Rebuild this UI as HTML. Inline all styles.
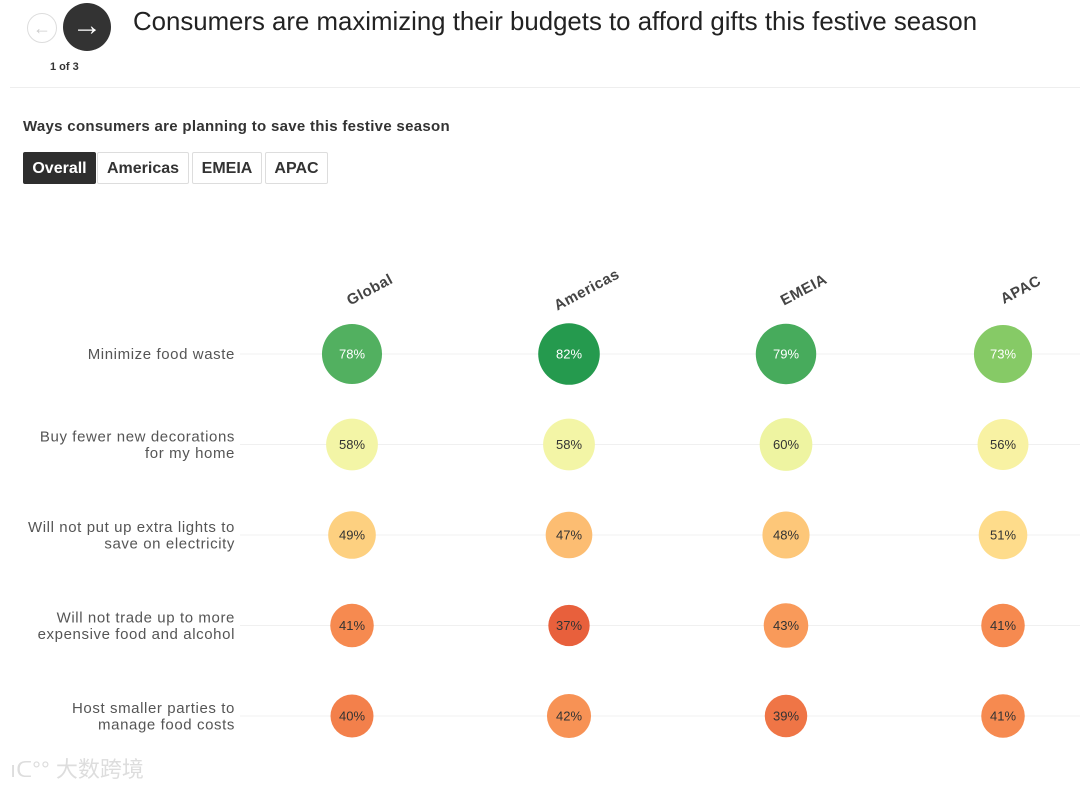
<!DOCTYPE html>
<html><head><meta charset="utf-8"><style>
body{margin:0;width:1080px;height:787px;background:#fff;font-family:"Liberation Sans",sans-serif;overflow:hidden;position:relative}
.nav{position:absolute;border-radius:50%}
.tab{position:absolute;top:152px;height:32px;border:1px solid #ddd;border-radius:2px;font-weight:bold;font-size:16px;line-height:31px;text-align:center;color:#333;box-sizing:border-box}
</style></head><body>
<div class="nav" style="left:27px;top:13px;width:28px;height:28px;border:1px solid #ddd;color:#ccc;text-align:center;line-height:28px;font-size:18px;font-weight:bold">←</div>
<div class="nav" style="left:63px;top:3px;width:48px;height:48px;background:#333;color:#fff;text-align:center;line-height:46px;font-size:30px;font-weight:bold">→</div>
<div style="position:absolute;left:50px;top:61px;font-size:11px;font-weight:bold;color:#333">1 of 3</div>
<div style="position:absolute;left:133px;top:8px;font-size:25.8px;color:#222">Consumers are maximizing their budgets to afford gifts this festive season</div>
<div style="position:absolute;left:10px;top:87px;width:1070px;height:1px;background:#eee"></div>
<div style="position:absolute;left:23px;top:118px;font-size:15px;font-weight:bold;color:#333;letter-spacing:0.3px">Ways consumers are planning to save this festive season</div>
<div class="tab" style="left:23px;width:73px;background:#2e2e2e;color:#fff;border-color:#2e2e2e">Overall</div>
<div class="tab" style="left:97px;width:92px">Americas</div>
<div class="tab" style="left:192px;width:70px">EMEIA</div>
<div class="tab" style="left:265px;width:63px">APAC</div>
<svg id="chart" width="1080" height="787" style="position:absolute;left:0;top:0"></svg>
<div style="position:absolute;left:10px;top:752px;font-size:22px;color:#ddd;font-family:'Liberation Sans','Noto Sans CJK SC',sans-serif">ıᑕ°° 大数跨境</div>
<script>
const regions=["Global","Americas","EMEIA","APAC"];
const items=[["Minimize food waste"],["Buy fewer new decorations","for my home"],["Will not put up extra lights to","save on electricity"],["Will not trade up to more","expensive food and alcohol"],["Host smaller parties to","manage food costs"]];
const globalVals=[78,58,49,41,40];
const americasVals=[82,58,47,37,42];
const emeiaVals=[79,60,48,43,39];
const apacVals=[73,56,51,41,41];
const series=[globalVals,americasVals,emeiaVals,apacVals];
const ns="http://www.w3.org/2000/svg";
const svg=document.getElementById('chart');
const xPos=i=>352+i*217, yPos=j=>354+j*90.5, rad=v=>Math.sqrt(v)*3.4;
const stops=[[37,[232,96,60]],[41,[246,138,80]],[45,[251,170,100]],[49,[253,208,128]],[52,[254,226,145]],[57,[246,246,168]],[61,[235,243,158]],[73,[134,202,102]],[78,[82,176,96]],[82,[37,154,78]]];
function col(v){if(v<=stops[0][0])return stops[0][1];for(let k=1;k<stops.length;k++){if(v<=stops[k][0]){const a=stops[k-1],b=stops[k],t=(v-a[0])/(b[0]-a[0]);return a[1].map((c,i)=>Math.round(c+(b[1][i]-c)*t));}}return stops[stops.length-1][1];}
function el(t,a){const e=document.createElementNS(ns,t);for(const k in a)e.setAttribute(k,a[k]);svg.appendChild(e);return e;}
items.forEach((lines,j)=>{
 const y=yPos(j);
 const ln=el('line',{x1:240,x2:1080,y1:y,y2:y,stroke:'#f0f0f0'});
 
 
 lines.forEach((s,k)=>{const t=el('text',{x:235,y:y+5+(k-(lines.length-1)/2)*16.5,'text-anchor':'end','font-size':15,'letter-spacing':0.6,fill:'#555'});t.textContent=s;
 
 });
});
regions.forEach((r,i)=>{
 const t=el('text',{x:0,y:0,'font-size':15,'font-weight':'bold','letter-spacing':0.5,fill:'#444','text-anchor':'middle',transform:`translate(${xPos(i)+20},${294}) rotate(-28)`});t.textContent=r;
 
 
 series[i].forEach((v,j)=>{
  const c=col(v);
  const ci=el('circle',{cx:xPos(i),cy:yPos(j),r:rad(v),fill:`rgb(${c})`});
  
  
  const lt=el('text',{x:xPos(i),y:yPos(j)+4.5,'text-anchor':'middle','font-size':13,fill:v>=70?'#fff':'#333'});lt.textContent=v+'%';
  
  
 });
});
</script>
</body></html>
